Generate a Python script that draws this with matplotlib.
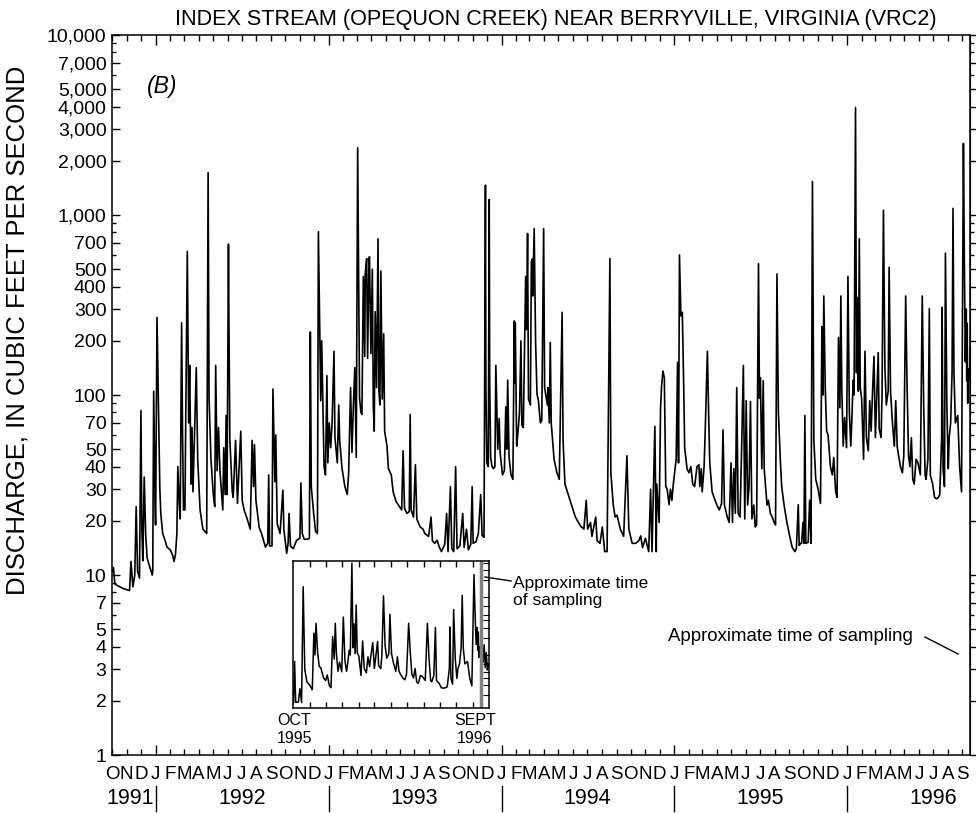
import pandas as pd
import matplotlib
matplotlib.use("Agg")
import matplotlib.pyplot as plt
from matplotlib.lines import Line2D
from matplotlib.ticker import NullFormatter

plt.rcParams["font.family"] = ["Liberation Sans", "DejaVu Sans"]

# Daily mean discharge read off the hydrograph, by water year
# (day 0 = October 1 of the previous calendar year), cubic feet per second
wy1992_day = [0, 3, 6, 13, 24, 37, 40, 44, 48, 51, 54, 58, 61, 63, 65, 68, 71, 74, 80, 85,
              86, 88, 91, 92, 95, 98, 100, 101, 103, 107, 112, 116, 123, 128, 131, 134, 137,
              139, 142, 144, 147, 149, 151, 154, 159, 161, 162, 164, 167, 169, 171, 178, 181,
              186, 192, 200, 203, 205, 209, 214, 217, 219, 222, 225, 228, 234, 236, 239, 241,
              243, 246, 247, 249, 254, 256, 261, 265, 272, 275, 279, 285, 292, 296, 299, 301,
              304, 311, 316, 324, 329, 331, 333, 338, 340, 344, 346, 349, 355, 361, 363]
wy1992_cfs = [10.5, 11, 8.9, 8.7, 8.4, 8.2, 11.9, 8.6, 10, 24, 10.5, 9.6, 82, 18, 12, 35, 17,
              12.5, 11, 10, 10.5, 105, 25, 19, 270, 88, 45, 30, 22, 17, 15.6, 14.3, 13.8, 12.9,
              11.9, 13, 17, 40, 25, 20.5, 252, 60, 23, 23, 628, 146, 70, 146, 32, 66, 29, 142,
              44, 23, 18, 17, 1718, 96, 44, 28, 24, 146, 38, 66, 38, 23, 51, 28, 77, 28, 689,
              250, 56, 29, 27, 56, 25, 63, 26, 23, 20.7, 18, 56, 31, 53, 26, 18.3, 17, 14.3, 15,
              36, 14.5, 14.5, 108, 33, 60, 19.3, 17, 29.6, 18]

wy1993_day = [3, 6, 8, 11, 17, 24, 31, 33, 36, 40, 46, 51, 53, 55, 60, 64, 68, 70, 73, 75, 77,
              82, 85, 88, 90, 93, 96, 99, 103, 105, 110, 113, 115, 120, 126, 131, 134, 138, 141,
              144, 147, 150, 153, 157, 160, 162, 165, 168, 169, 172, 174, 177, 178, 181, 184,
              186, 188, 190, 193, 196, 198, 200, 202, 205, 208, 210, 215, 218, 224, 228, 234,
              239, 246, 249, 252, 257, 262, 264, 266, 271, 275, 278, 285, 291, 295, 303, 308,
              311, 316, 321, 325, 330, 337, 341, 344, 349, 352, 356, 360, 363]
wy1993_cfs = [13.2, 15, 22, 14.5, 14, 15.6, 16, 32.5, 17, 15.8, 15.8, 16, 224, 31, 22, 17.5, 17,
              807, 213, 93, 200, 40, 36, 128, 42, 70, 51, 70, 175, 58, 42, 88, 56, 39, 31, 28,
              37, 110, 48, 88, 142, 45, 2367, 96, 80, 78, 456, 164, 474, 573, 160, 573, 587,
              170, 500, 88, 63, 290, 110, 738, 105, 88, 489, 95, 219, 63, 52, 39, 36, 29, 25.7,
              24.5, 23, 49, 23.5, 22, 22.5, 78, 23, 21, 41, 20.5, 18.5, 18, 17, 16.4, 21, 15.5,
              15, 15.6, 14.4, 13.5, 14.8, 22, 13.5, 31, 14, 13.5, 40, 14]

wy1994_day = [4, 10, 13, 18, 22, 27, 30, 32, 38, 43, 48, 51, 55, 58, 59, 61, 64, 66, 67, 69,
              72, 75, 78, 80, 84, 87, 89, 94, 98, 101, 103, 105, 108, 112, 116, 119, 120, 121,
              124, 127, 130, 133, 135, 138, 143, 145, 147, 149, 153, 155, 157, 158, 161, 164,
              167, 170, 174, 177, 181, 183, 189, 190, 193, 195, 197, 203, 209, 214, 220, 222,
              226, 233, 240, 248, 259, 266, 271, 274, 280, 283, 291, 294, 300, 305, 310, 315,
              321, 323, 328, 332, 336, 343, 350, 357, 361]
wy1994_cfs = [14.5, 22, 14.2, 18, 13.8, 14.8, 31, 15, 15.3, 17, 28, 16.6, 16.2, 1466, 110, 42,
              40, 1220, 120, 45, 40, 39, 40, 146, 50, 74, 48, 36, 38, 86, 50, 121, 45, 36, 34,
              258, 117, 252, 52, 63, 80, 200, 68, 66, 456, 231, 790, 95, 88, 548, 570, 355, 840,
              196, 101, 93, 70, 72, 840, 110, 88, 110, 70, 196, 70, 44, 37, 34, 288, 56, 32, 28,
              24.5, 21, 18.7, 18, 26, 18, 19.6, 16.4, 21, 15.5, 15, 18.5, 13.5, 13.5, 573, 37,
              24.6, 21, 21.5, 18, 16.4, 46, 18]

wy1995_day = [3, 10, 17, 21, 25, 31, 38, 42, 45, 48, 51, 54, 55, 60, 63, 65, 68, 71, 74, 77,
              81, 84, 87, 90, 96, 99, 101, 103, 106, 109, 112, 114, 119, 123, 127, 131, 135,
              140, 144, 146, 149, 151, 155, 157, 162, 165, 167, 172, 176, 182, 187, 192, 195,
              198, 204, 208, 212, 215, 218, 221, 224, 227, 231, 234, 238, 241, 244, 247, 250,
              253, 256, 260, 263, 266, 270, 272, 274, 277, 280, 282, 285, 288, 291, 295, 299,
              303, 306, 309, 312, 316, 319, 324, 330, 336, 341, 343, 347, 350, 354, 356, 359,
              361, 364]
wy1995_cfs = [15, 15, 15.5, 16.5, 14.2, 16, 13.5, 30, 13.5, 31, 67, 13.5, 32, 19.6, 84, 110,
              136, 125, 31, 30, 24.6, 30, 26, 32, 44, 152, 42, 600, 275, 288, 110, 51, 39, 37,
              40, 32, 31, 40, 41, 31, 39, 29, 40, 58, 175, 70, 42, 29, 27, 24.5, 23, 25, 64,
              24.5, 21, 19.6, 42, 19.6, 39, 22, 110, 22, 21, 46, 146, 20.5, 93, 24.5, 31, 92,
              20.5, 24.5, 18.5, 19, 536, 96, 125, 39, 120, 39, 31, 24.5, 26, 22, 21, 19.6, 19,
              471, 80, 44, 31, 24.5, 19.6, 16.4, 14.3, 14, 13.5, 14, 24.6, 14.6, 15, 15, 19.6]

wy1996_day = [1, 3, 5, 10, 13, 16, 19, 22, 26, 31, 35, 36, 39, 41, 43, 46, 49, 52, 57, 61, 64,
              68, 71, 74, 77, 79, 81, 84, 87, 91, 94, 97, 100, 102, 105, 107, 110, 112, 114,
              116, 118, 120, 123, 127, 130, 133, 137, 140, 143, 146, 149, 152, 155, 158, 160,
              164, 166, 169, 172, 175, 179, 181, 184, 188, 192, 195, 198, 201, 205, 209, 212,
              216, 219, 222, 225, 228, 231, 234, 238, 242, 247, 251, 254, 257, 259, 263, 266,
              268, 273, 277, 281, 285, 288, 292, 293, 295, 298, 300, 303, 306, 308, 311, 314,
              316, 318, 321, 326, 330, 334, 338, 340, 342, 344, 345, 346, 347, 349, 351, 353,
              355, 357, 359, 361, 363, 365]
wy1996_cfs = [15, 77, 15, 15.2, 26, 15, 1535, 56, 34, 30, 26, 25, 240, 100, 355, 110, 63, 60,
              40, 36, 45, 29, 27, 209, 85, 355, 110, 52, 75, 51, 456, 80, 52, 70, 121, 100,
              3953, 133, 348, 105, 738, 110, 95, 44, 175, 58, 49, 93, 63, 105, 164, 58, 100,
              172, 65, 58, 100, 1064, 146, 88, 105, 512, 105, 70, 52, 93, 52, 46, 40, 37, 46,
              355, 110, 46, 40, 58, 34, 32, 44, 42, 36, 355, 88, 36, 34, 44, 302, 36, 32, 27,
              26.5, 27, 28, 58, 307, 39, 31, 614, 88, 39, 58, 70, 133, 1089, 133, 70, 77, 40,
              29, 2500, 547, 153, 300, 120, 250, 90, 140, 120, 185, 75, 150, 60, 110, 55, 70]

y_major = [1, 2, 3, 4, 5, 7, 10, 20, 30, 40, 50, 70, 100, 200, 300, 400, 500, 700,
           1000, 2000, 3000, 4000, 5000, 7000, 10000]
y_minor = [6, 8, 9, 60, 80, 90, 600, 800, 900, 6000, 8000, 9000]
inset_ticks = [20, 30, 40, 50, 70, 100, 200, 300, 400, 500, 700, 1000, 2000, 3000, 4000]
month_letters = list("JFMAMJJASOND")
year_labels = ["1991", "1992", "1993", "1994", "1995", "1996"]
year_label_dates = ["1991-11-08", "1992-07-01", "1993-07-01", "1994-07-01",
                    "1995-07-01", "1996-07-01"]
sampling_date = "1996-09-17"


def wy_dates(wy, days):
    return pd.Timestamp(f"{wy - 1}-10-01") + pd.to_timedelta(days, unit="D")


records = [(1992, wy1992_day, wy1992_cfs), (1993, wy1993_day, wy1993_cfs),
           (1994, wy1994_day, wy1994_cfs), (1995, wy1995_day, wy1995_cfs),
           (1996, wy1996_day, wy1996_cfs)]
dates = pd.DatetimeIndex([])
flow = []
for wy, d, q in records:
    dates = dates.append(wy_dates(wy, d))
    flow += q
series = pd.Series(flow, index=dates)

fig = plt.figure(figsize=(9.76, 8.13), dpi=100)
ax = fig.add_axes([0.1148, 0.0713, 0.8791, 0.8856])

ax.plot(series.index, series.values, color="black", lw=1.2)
ax.set_yscale("log")
ax.set_ylim(1, 10000)
start, end = pd.Timestamp("1991-10-01"), pd.Timestamp("1996-09-17")
ax.set_xlim(start, end)

ax.set_yticks(y_major, labels=[f"{v:,}" for v in y_major])
ax.set_yticks(y_minor, minor=True)
ax.yaxis.set_minor_formatter(NullFormatter())
ax.tick_params(axis="y", which="major", direction="in", length=5.5, width=1,
               labelsize=14, pad=4)
ax.tick_params(axis="y", which="minor", direction="in", length=3, width=1)

months = pd.date_range("1991-10-01", "1996-09-01", freq="MS")
jans = [m for m in months if m.month == 1]
others = [m for m in months if m.month != 1]
ax.set_xticks(jans)
ax.set_xticks(others, minor=True)
ax.tick_params(axis="x", which="both", direction="in", top=True, bottom=True,
               labelbottom=False, width=1)
ax.tick_params(axis="x", which="major", length=7)
ax.tick_params(axis="x", which="minor", length=4)

right = ax.secondary_yaxis("right")
right.set_yticks(y_major)
right.set_yticks(y_minor, minor=True)
right.tick_params(axis="y", which="major", direction="out", length=5, width=1,
                  labelright=False)
right.tick_params(axis="y", which="minor", direction="out", length=3, width=1,
                  labelright=False)
right.yaxis.set_major_formatter(NullFormatter())
right.yaxis.set_minor_formatter(NullFormatter())

for s in ax.spines.values():
    s.set_linewidth(1.1)

xt = ax.get_xaxis_transform()
for m in months:
    ax.text(m, -0.027, month_letters[m.month - 1], transform=xt, ha="center",
            va="center", fontsize=13.5)
for lab, d in zip(year_labels, year_label_dates):
    ax.text(pd.Timestamp(d), -0.06, lab, transform=xt, ha="center", va="center",
            fontsize=15.5)
for j in jans:
    ax.plot([j, j], [-0.043, -0.078], transform=xt, color="black", lw=1,
            clip_on=False)

fig.text(0.5697, 0.9754, "INDEX STREAM (OPEQUON CREEK) NEAR BERRYVILLE, VIRGINIA (VRC2)",
         ha="center", va="center", fontsize=15.6)
fig.text(0.0184, 0.594, "DISCHARGE, IN CUBIC FEET PER SECOND", rotation=90,
         ha="center", va="center", fontsize=18.5)
fig.text(0.166, 0.893, "(B)", ha="center", va="center", fontsize=16.5, style="italic")

fig.text(0.6844, 0.2165, "Approximate time of sampling", ha="left", va="center",
         fontsize=13.4)
fig.add_artist(Line2D([0.9477, 0.9816], [0.2165, 0.1956], transform=fig.transFigure,
                      color="black", lw=1))

# inset: last water year at its own scale
axin = fig.add_axes([0.3002, 0.1292, 0.2008, 0.1808])
wy96 = series[series.index >= pd.Timestamp("1995-10-01")]
axin.plot(wy96.index, wy96.values, color="black", lw=1.1)
axin.set_yscale("log")
axin.set_ylim(12, 4300)
axin.set_xlim(pd.Timestamp("1995-10-01"), pd.Timestamp("1996-10-01"))
axin.axvline(pd.Timestamp(sampling_date), color="#808080", lw=2.5)
inset_months = pd.date_range("1995-11-01", "1996-09-01", freq="MS")
axin.set_xticks(inset_months)
axin.tick_params(axis="x", direction="in", top=True, bottom=True, length=4,
                 width=1, labelbottom=False)
axin.yaxis.tick_right()
axin.set_yticks(inset_ticks)
axin.yaxis.set_minor_locator(matplotlib.ticker.NullLocator())
axin.tick_params(axis="y", direction="in", length=4, width=0.8, labelright=False,
                 left=False, right=True)
for s in axin.spines.values():
    s.set_linewidth(1.1)

fig.text(294 / 976, 1 - 729 / 813, "OCT\n1995", ha="center", va="center",
         fontsize=11.5, linespacing=1.25)
fig.text(475 / 976, 1 - 729 / 813, "SEPT\n1996", ha="center", va="center",
         fontsize=11.5, linespacing=1.25)
fig.text(513 / 976, 1 - 592 / 813, "Approximate time\nof sampling", ha="left",
         va="center", fontsize=12.5, linespacing=1.1)
fig.add_artist(Line2D([485 / 976, 511 / 976], [1 - 577 / 813, 1 - 581 / 813],
                      transform=fig.transFigure, color="black", lw=1))

fig.savefig("out.png", dpi=100)
